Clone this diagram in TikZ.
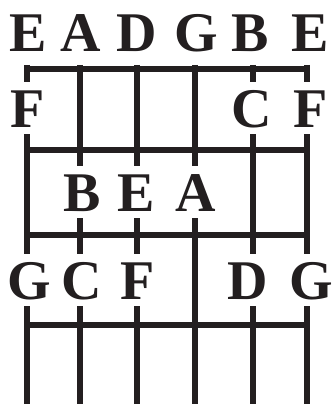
\documentclass[tikz,border=0pt]{standalone}
\usepackage{fontspec}
\setmainfont{Liberation Serif}
\usepackage{tikz}
\usetikzlibrary{positioning}
\definecolor{fbInk}{HTML}{231F20}
\tikzset{
  fbline/.style={line width=5.5pt, draw=fbInk},
  fret/.style={fbline, line width=6pt},
  note/.style={
    font=\fontsize{56}{56}\selectfont\bfseries, text=fbInk,
    fill=white, inner xsep=1pt, inner ysep=7pt, text height=38pt, text depth=0pt
  },
  opennote/.style={note, fill=none}
}

\begin{document}
\begin{tikzpicture}[x=1pt, y=-1pt]
  \useasboundingbox (0,0) rectangle (333,404);
  % strings
  \foreach \x [count=\i] in {27,80,137,195,253,307}{
    \coordinate (s\i) at (\x,65);
    \coordinate (e\i) at (\x,404);
    \draw[fbline] (s\i) -- (e\i);
  }
  % nut and frets
  \draw[fret] ([xshift=-2.75pt]s1 |- 0,69) -- ([xshift=2.75pt]s6 |- 0,69);
  \foreach \y in {150,235,325}{\draw[fret] (s1 |- 0,\y) -- (s6 |- 0,\y);}
  % open strings
  \foreach \x/\n [count=\i] in {28/E, 81/A, 137/D, 196/G, 250/B, 310/E}{
    \node[opennote] (open\i) at (\x,33) {\n};
  }
  % first fret
  \node[note] (fa) at (28,108) {F};
  \node[note] (fb) at (252,108) {C};
  \node[note] (fc) at (311,108) {F};
  % second fret
  \foreach \x/\n [count=\i] in {82/B, 136/E, 196/A}{
    \node[note] (sec\i) at (\x,192) {\n};
  }
  % third fret
  \foreach \x/\n [count=\i] in {29/G, 82/C, 138/F, 248/D, 311/G}{
    \node[note] (thr\i) at (\x,280) {\n};
  }
\end{tikzpicture}
\end{document}
